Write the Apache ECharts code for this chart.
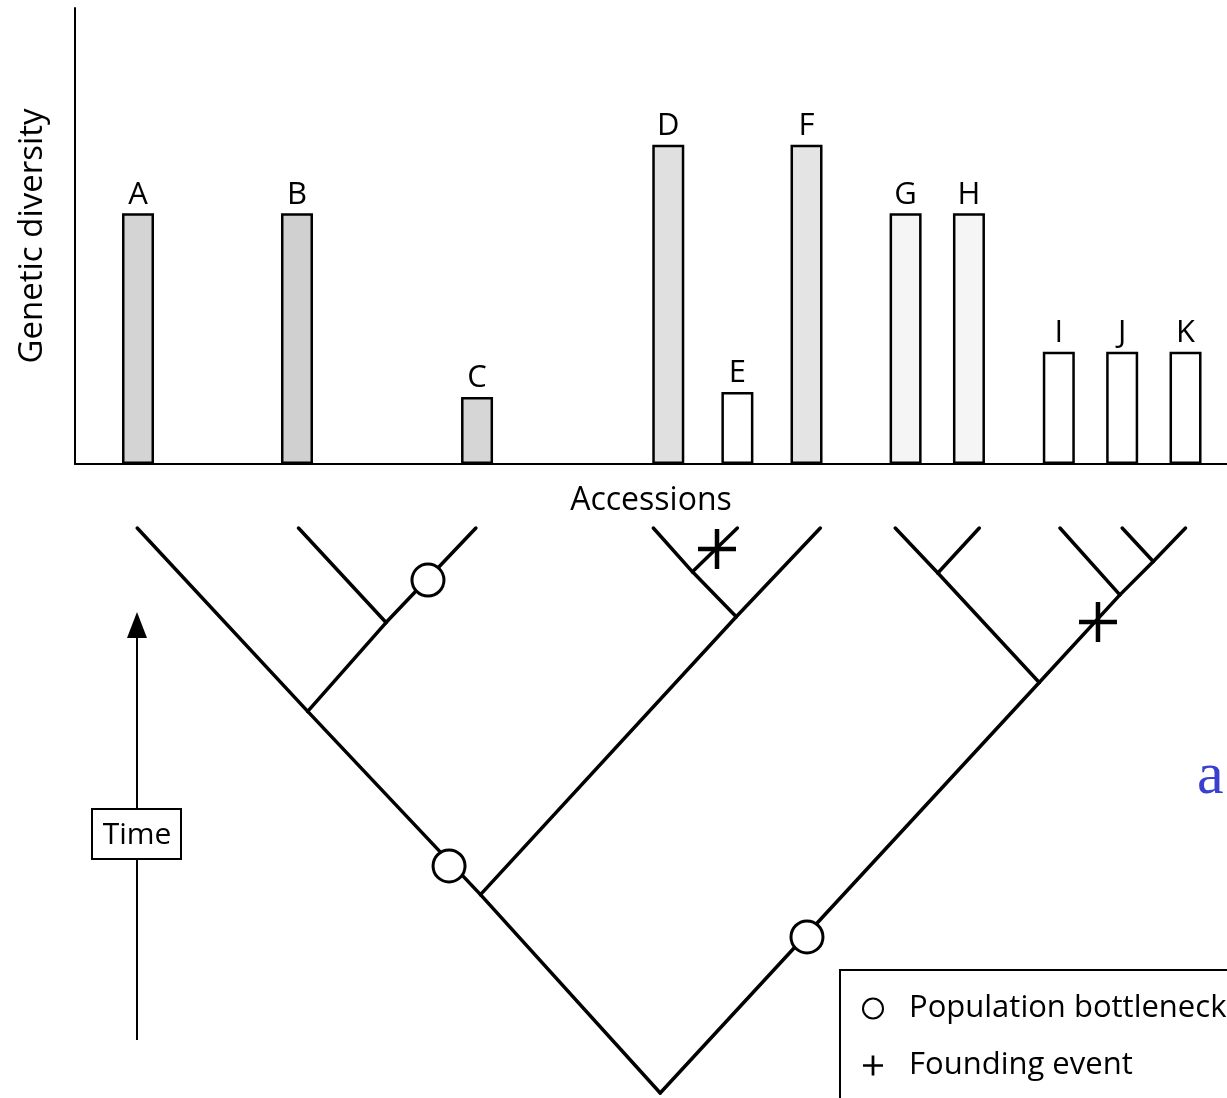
<!DOCTYPE html>
<html>
<head>
<meta charset="utf-8">
<title>Genetic diversity of accessions</title>
<script src="https://cdn.jsdelivr.net/npm/echarts@6/dist/echarts.min.js"></script>
<style>
  html, body { margin: 0; padding: 0; background: #fff; }
  #chart { width: 1227px; height: 1098px; }
</style>
</head>
<body>
<div id="chart"></div>
<script>
// Accessions, their position along the accession axis and their genetic diversity
const categories   = ['A', 'B', 'C', 'D', 'E', 'F', 'G', 'H', 'I', 'J', 'K'];
const accessionPos = [5.47, 19.27, 34.9, 51.5, 57.5, 63.5, 72.1, 77.6, 85.4, 90.9, 96.4];
const diversity    = [5.5, 5.5, 1.47, 7.0, 1.58, 7.0, 5.5, 5.5, 2.46, 2.46, 2.46];

// Genealogy: node -> [position, time since the common ancestor]
const treeNodes = {
  root: [50.8, 0],
  n1: [35.2, 17.2], n2: [20.2, 33.1], n3: [27.0, 40.8],
  n4: [57.4, 41.3], n5: [53.6, 45.2],
  n6: [83.7, 35.6], n7: [74.9, 45.1], n8: [90.7, 43.2], n9: [93.6, 46.1],
  A: [5.4, 49], B: [19.4, 49], C: [34.8, 49],
  D: [50.2, 49], E: [57.5, 49], F: [64.7, 49],
  G: [71.2, 49], H: [78.5, 49], I: [85.5, 49], J: [90.9, 49], K: [96.4, 49]
};
const treeEdges = [
  ['root', 'n1'], ['n1', 'n2'], ['n2', 'A'], ['n2', 'n3'], ['n3', 'B'], ['n3', 'C'],
  ['n1', 'n4'], ['n4', 'n5'], ['n5', 'D'], ['n5', 'E'], ['n4', 'F'],
  ['root', 'n6'], ['n6', 'n7'], ['n7', 'G'], ['n7', 'H'],
  ['n6', 'n8'], ['n8', 'I'], ['n8', 'n9'], ['n9', 'J'], ['n9', 'K']
];
// Events on the branches: [position, time]
const bottlenecks = [[30.64, 44.49], [32.47, 19.69], [63.54, 13.53]];
const foundings   = [[55.73, 47.18], [88.80, 40.85]];

// Fill of each bar (stippled grey vs. open)
const barFill = {
  A: '#d4d4d4', B: '#d0d0d0', C: '#d6d6d6', D: '#e0e0e0', E: '#ffffff',
  F: '#e4e4e4', G: '#f5f5f5', H: '#f5f5f5', I: '#ffffff', J: '#ffffff', K: '#ffffff'
};

const FONT = 'Open Sans';
const chart = echarts.init(document.getElementById('chart'), null, { renderer: 'canvas' });

const barData = categories.map((c, i) => ({
  name: c,
  value: [accessionPos[i], diversity[i]],
  itemStyle: { color: barFill[c] }
}));
const edgeData = treeEdges.map(([a, b]) => [...treeNodes[a], ...treeNodes[b]]);

const plusIcon = 'path://M9.5,0h3v9.5h9.5v3h-9.5v9.5h-3v-9.5h-9.5v-3h9.5z';

chart.setOption({
  animation: false,
  backgroundColor: '#fff',
  textStyle: { fontFamily: FONT, color: '#000' },
  grid: [
    { left: 75, right: 0, top: 8, height: 456 },
    { left: 75, right: 0, top: 528, height: 565 }
  ],
  xAxis: [
    {
      gridIndex: 0, type: 'value', min: 0, max: 100,
      name: 'Accessions', nameLocation: 'middle', nameGap: 21,
      nameTextStyle: { fontSize: 32, color: '#000', fontFamily: FONT },
      axisLine: { show: true, lineStyle: { color: '#000', width: 2 } },
      axisTick: { show: false }, axisLabel: { show: false }, splitLine: { show: false }
    },
    {
      gridIndex: 1, type: 'value', min: 0, max: 100, show: false
    }
  ],
  yAxis: [
    {
      gridIndex: 0, type: 'value', min: 0, max: 10,
      name: 'Genetic diversity', nameLocation: 'middle', nameGap: 26, nameRotate: 90,
      nameTextStyle: { fontSize: 33, color: '#000', fontFamily: FONT },
      axisLine: { show: true, lineStyle: { color: '#000', width: 2 } },
      axisTick: { show: false }, axisLabel: { show: false }, splitLine: { show: false }
    },
    {
      gridIndex: 1, type: 'value', min: 0, max: 49, show: false
    }
  ],
  legend: {
    orient: 'vertical', left: 862, top: 993, padding: 0,
    itemWidth: 20, itemHeight: 20, itemGap: 26,
    selectedMode: false,
    textStyle: { fontSize: 31, lineHeight: 31, color: '#000', fontFamily: FONT, padding: [0, 0, 0, 21] },
    data: [
      { name: 'Population bottleneck', icon: 'circle',
        itemStyle: { color: '#fff', borderColor: '#000', borderWidth: 2 } },
      { name: 'Founding event', icon: plusIcon, itemStyle: { color: '#000', borderWidth: 0 } }
    ]
  },
  series: [
    {
      name: 'Genetic diversity', type: 'bar', xAxisIndex: 0, yAxisIndex: 0,
      barWidth: 32, data: barData,
      itemStyle: { borderColor: '#000', borderWidth: 2.5 },
      label: { show: true, position: 'top', distance: 3, formatter: '{b}',
               fontSize: 31, color: '#000', fontFamily: FONT }
    },
    {
      name: 'Genealogy', type: 'custom', xAxisIndex: 1, yAxisIndex: 1,
      data: edgeData, encode: { x: [0, 2], y: [1, 3] }, z: 2,
      renderItem: (params, api) => {
        const p1 = api.coord([api.value(0), api.value(1)]);
        const p2 = api.coord([api.value(2), api.value(3)]);
        return {
          type: 'line',
          shape: { x1: p1[0], y1: p1[1], x2: p2[0], y2: p2[1] },
          style: { stroke: '#000', lineWidth: 3.5, lineCap: 'round' }
        };
      }
    },
    {
      name: 'Population bottleneck', type: 'scatter', xAxisIndex: 1, yAxisIndex: 1,
      data: bottlenecks, symbol: 'circle', symbolSize: 32, z: 3,
      itemStyle: { color: '#fff', borderColor: '#000', borderWidth: 3, opacity: 1 }
    },
    {
      name: 'Founding event', type: 'custom', xAxisIndex: 1, yAxisIndex: 1,
      data: foundings, z: 4, itemStyle: { color: '#000' },
      renderItem: (params, api) => {
        const p = api.coord([api.value(0), api.value(1)]);
        const st = { stroke: '#000', lineWidth: 4.5 };
        return {
          type: 'group',
          children: [
            { type: 'line', shape: { x1: p[0] - 19, y1: p[1], x2: p[0] + 19, y2: p[1] }, style: st },
            { type: 'line', shape: { x1: p[0], y1: p[1] - 20, x2: p[0], y2: p[1] + 20 }, style: st }
          ]
        };
      }
    }
  ],
  graphic: [
    // Time arrow
    { type: 'line', shape: { x1: 137, y1: 1040, x2: 137, y2: 634 },
      style: { stroke: '#000', lineWidth: 2 }, z: 10 },
    { type: 'polygon', shape: { points: [[137, 612], [127, 638], [147, 638]] },
      style: { fill: '#000' }, z: 10 },
    { type: 'rect', shape: { x: 92, y: 809, width: 89, height: 50 },
      style: { fill: '#fff', stroke: '#000', lineWidth: 2 }, z: 11 },
    { type: 'text', x: 137, y: 835, z: 12,
      style: { text: 'Time', fontSize: 30, fontFamily: FONT, fill: '#000',
               align: 'center', verticalAlign: 'middle' } },
    // Legend frame
    { type: 'polyline', shape: { points: [[840, 1100], [840, 970], [1230, 970]] },
      style: { stroke: '#000', lineWidth: 2, fill: null }, z: 10 },
    // Panel letter
    { type: 'text', x: 1197, y: 777, z: 12,
      style: { text: 'a', fontSize: 60, fontFamily: 'Liberation Serif', fill: '#3a3fcf',
               align: 'left', verticalAlign: 'middle' } }
  ]
});
</script>
</body>
</html>
